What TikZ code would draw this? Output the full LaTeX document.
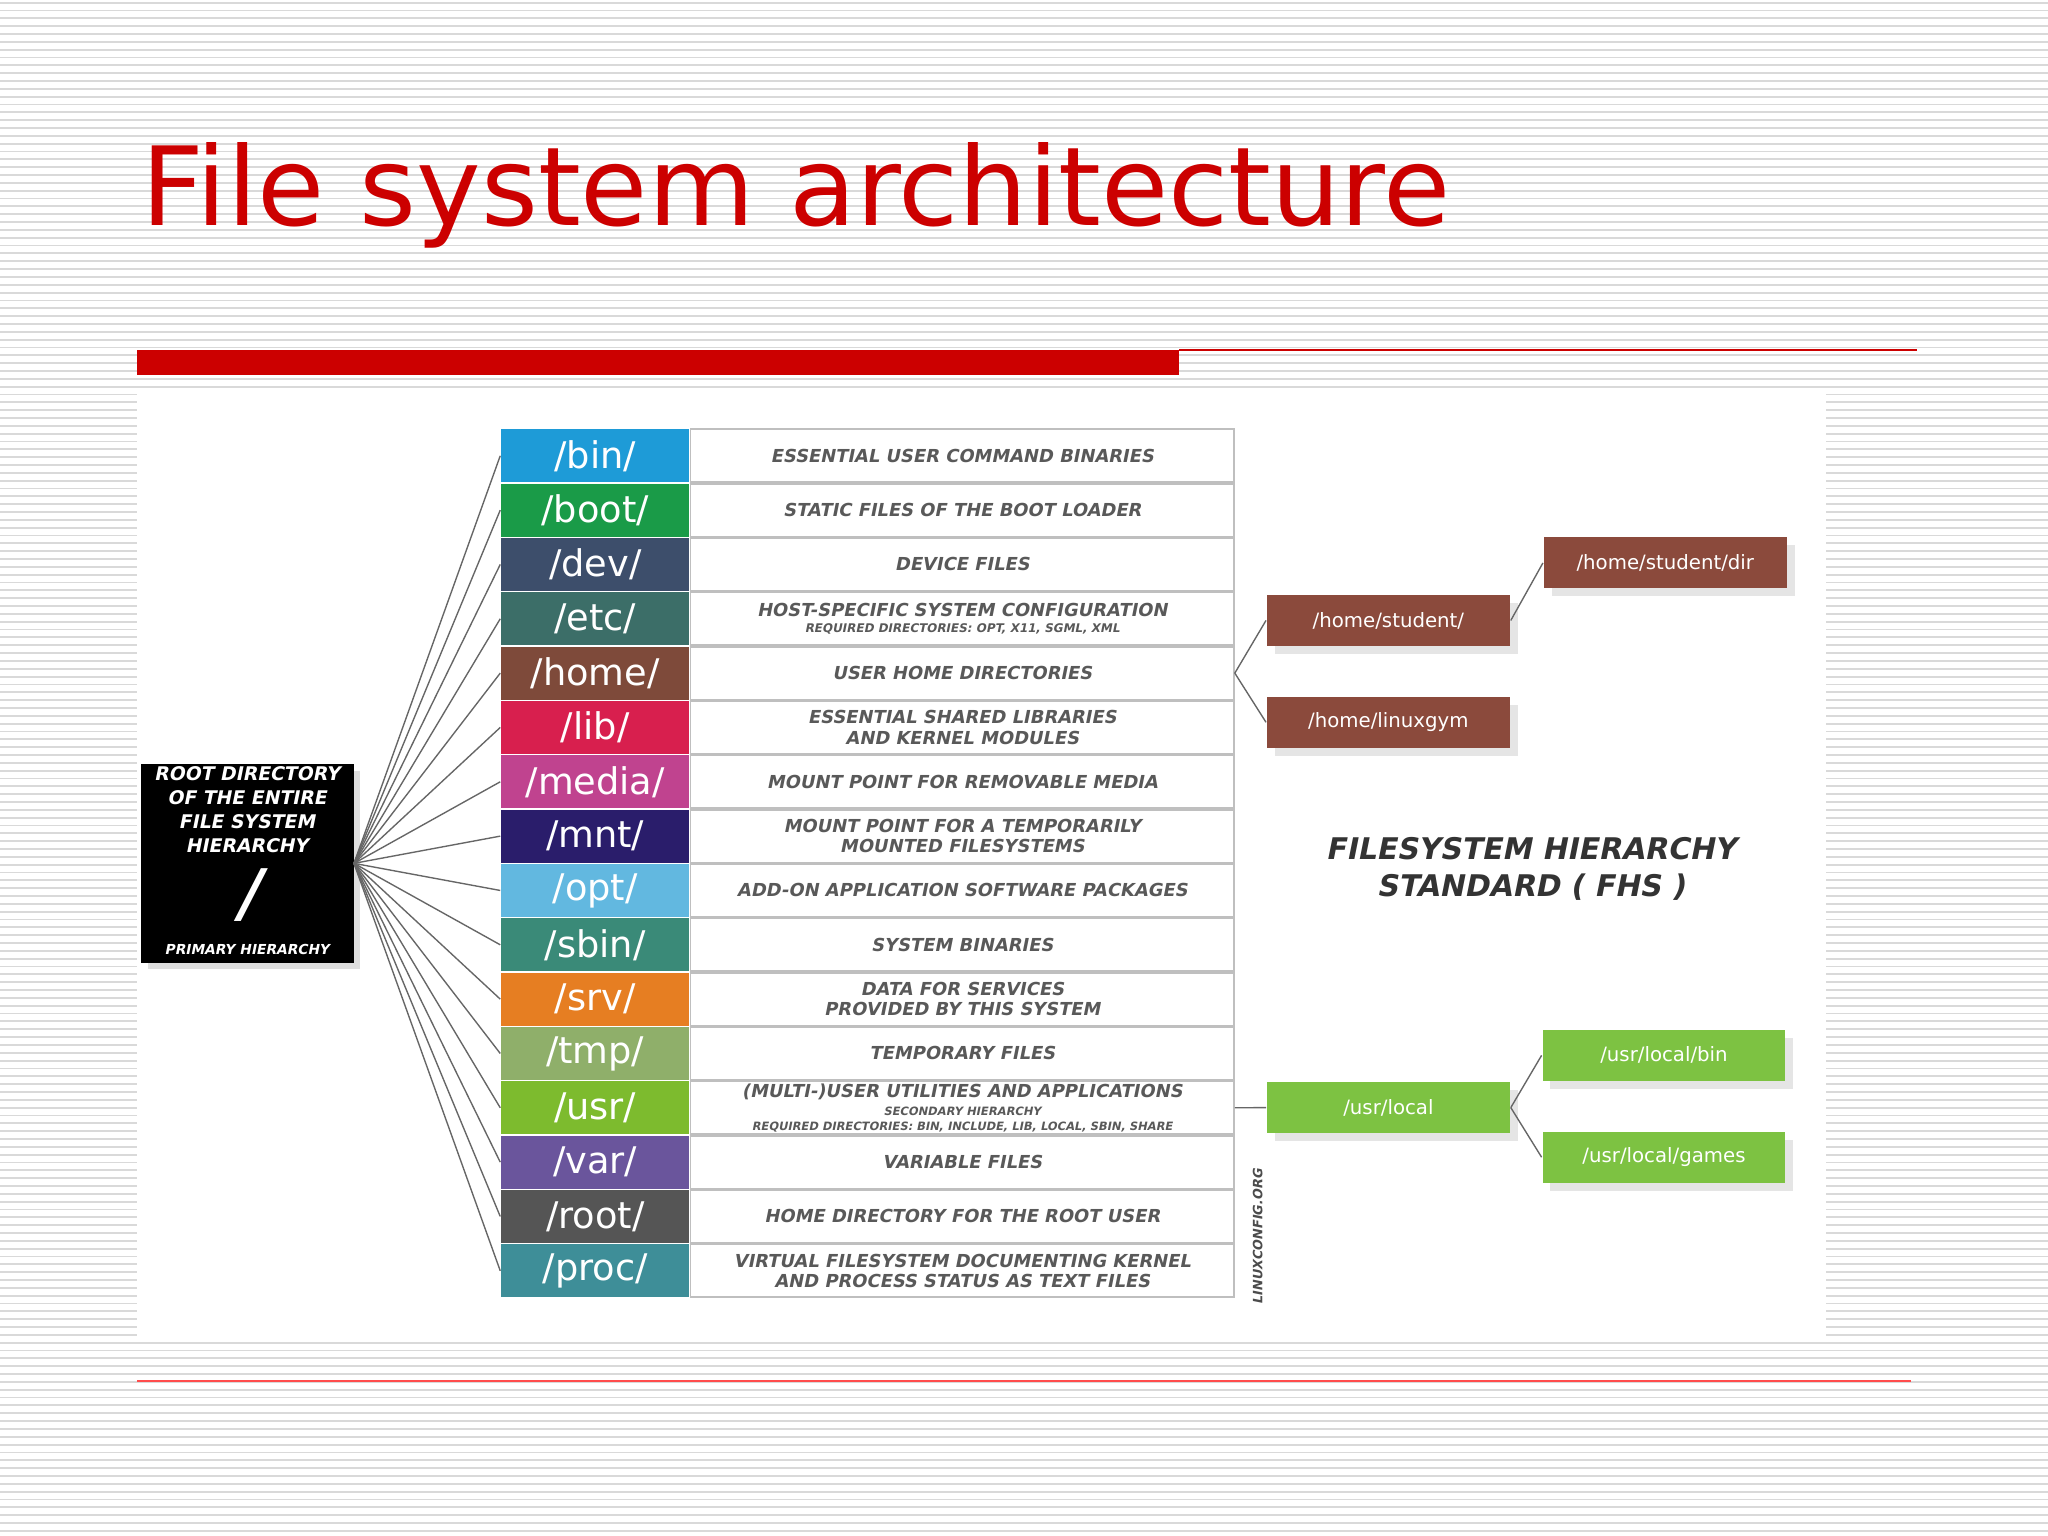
\documentclass[tikz,border=0pt]{standalone}
\usepackage{fontspec}
\usetikzlibrary{shadows}
\setmainfont{DejaVu Sans}
\newfontfamily\descfont{DejaVu Sans}[FakeSlant=0.2]
\definecolor{brn}{HTML}{8B4A3C}
\definecolor{grn}{HTML}{7DC242}
\begin{document}
\begin{tikzpicture}[x=0.1mm,y=-0.1mm,
 cell/.style={minimum height=4.05mm,inner sep=0pt,anchor=north west},
 dirc/.style={cell,minimum width=14.4mm,text=white,font=\fontsize{8}{9}\selectfont},
 desc/.style={cell,minimum width=41.6mm,draw=black!25,fill=white,text=black!65,font=\descfont\bfseries\fontsize{3.9}{4.5}\selectfont,align=center},
 sub/.style={minimum width=18.6mm,minimum height=3.9mm,inner sep=0pt,text=white,font=\fontsize{4.3}{5}\selectfont,drop shadow={opacity=.2,shadow xshift=0.6mm,shadow yshift=-0.6mm}},
 brown/.style={sub,fill=brn},
 green/.style={sub,fill=grn},
 link/.style={draw=black!60,line width=0.3pt}]
\useasboundingbox (0,0) rectangle (1568,1176);
\fill[white] (0,0) rectangle (1568,1176);
\foreach \y in {2,8,...,1176} \draw[black!15,line width=0.4pt] (0,\y) -- (1568,\y);
\fill[white] (105,298) rectangle (1398,1025);
\node[anchor=base west,text=red!80!black,font=\fontsize{23.8}{28}\selectfont,inner sep=0] (title) at (108,173) {File system architecture};
\fill[red!80!black] (105,268) rectangle (903,287);
\draw[red!80!black,line width=0.5pt] (903,268) -- (1468,268);
\draw[red!70,line width=0.4pt] (105,1057) -- (1463,1057);
% root
\node[fill=black,minimum width=16.3mm,minimum height=15.2mm,inner sep=0,drop shadow={opacity=.25,shadow xshift=0.5mm,shadow yshift=-0.5mm}] (root) at (189.5,661) {};
\node[text=white,font=\descfont\bfseries\fontsize{4.1}{5.2}\selectfont,align=center] at (189,620) {ROOT DIRECTORY\\OF THE ENTIRE\\FILE SYSTEM\\HIERARCHY};
\node[text=white,font=\descfont\bfseries\fontsize{14}{14}\selectfont] at (189,685) {/};
\node[text=white,font=\descfont\bfseries\fontsize{3}{3}\selectfont] at (189,727) {PRIMARY HIERARCHY};
\coordinate (rr) at (271,661);
\foreach [count=\i] \d/\c/\t in {
 bin/1E9BD7/{ESSENTIAL USER COMMAND BINARIES},
 boot/1A9B48/{STATIC FILES OF THE BOOT LOADER},
 dev/3D4E6B/{DEVICE FILES},
 etc/3C6E68/{HOST-SPECIFIC SYSTEM CONFIGURATION\\[-1pt]{\fontsize{2.6}{3}\selectfont REQUIRED DIRECTORIES: OPT, X11, SGML, XML}},
 home/7E4A3A/{USER HOME DIRECTORIES},
 lib/D81F4E/{ESSENTIAL SHARED LIBRARIES\\AND KERNEL MODULES},
 media/C0438F/{MOUNT POINT FOR REMOVABLE MEDIA},
 mnt/2A1D6B/{MOUNT POINT FOR A TEMPORARILY\\MOUNTED FILESYSTEMS},
 opt/62B8E0/{ADD-ON APPLICATION SOFTWARE PACKAGES},
 sbin/3A8A78/{SYSTEM BINARIES},
 srv/E67E22/{DATA FOR SERVICES\\PROVIDED BY THIS SYSTEM},
 tmp/8FAF6A/{TEMPORARY FILES},
 usr/7DBB2E/{(MULTI-)USER UTILITIES AND APPLICATIONS\\[-0.5pt]{\fontsize{2.5}{2.9}\selectfont SECONDARY HIERARCHY}\\[-1.2pt]{\fontsize{2.5}{2.9}\selectfont REQUIRED DIRECTORIES: BIN, INCLUDE, LIB, LOCAL, SBIN, SHARE}},
 var/6A559C/{VARIABLE FILES},
 root/555555/{HOME DIRECTORY FOR THE ROOT USER},
 proc/3E8E98/{VIRTUAL FILESYSTEM DOCUMENTING KERNEL\\AND PROCESS STATUS AS TEXT FILES}} {
 \definecolor{c\i}{HTML}{\c}
 \pgfmathsetmacro\yy{328+(\i-1)*41.6}
 \node[dirc,fill=c\i] (d\d) at (383,\yy) {/\d/};
 \node[desc] (t\d) at (528,\yy) {\t};
 \draw[link] (rr) -- (d\d.west);
}
\node[brown] (hs) at (1063,475) {/home/student/};
\node[brown] (hsd) at (1275,431) {/home/student/dir};
\node[brown] (hl) at (1063,553) {/home/linuxgym};
\node[green] (ul) at (1063,848) {/usr/local};
\node[green] (ub) at (1274,808) {/usr/local/bin};
\node[green] (ug) at (1274,886) {/usr/local/games};
\draw[link] (thome.east) -- (hs.west);
\draw[link] (thome.east) -- (hl.west);
\draw[link] (hs.east) -- (hsd.west);
\draw[link] (tusr.east) -- (ul.west);
\draw[link] (ul.east) -- (ub.west);
\draw[link] (ul.east) -- (ug.west);
\node[font=\descfont\bfseries\fontsize{6.5}{8}\selectfont,text=black!80,align=center] (fhs) at (1172,665) {FILESYSTEM HIERARCHY\\STANDARD ( FHS )};
\node[rotate=90,font=\descfont\bfseries\fontsize{2.8}{3}\selectfont,text=black!70] (lc) at (963,947) {LINUXCONFIG.ORG};
\end{tikzpicture}
\end{document}
